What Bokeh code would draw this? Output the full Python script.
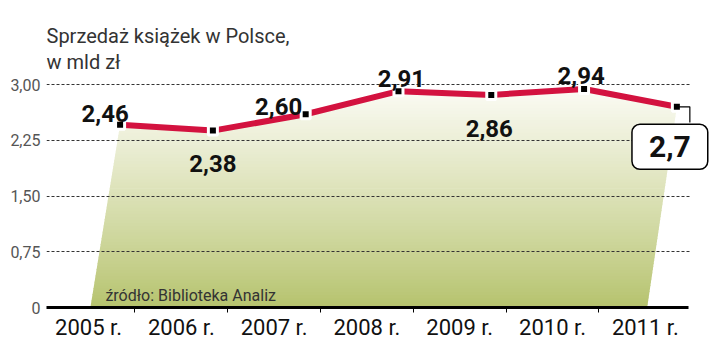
import numpy as np
from bokeh.plotting import figure
from bokeh.models import FixedTicker, Label, Range1d
from bokeh.core.properties import value
from bokeh.embed import file_html
from bokeh.resources import INLINE

# ---------------- data ----------------
years = ["2005 r.", "2006 r.", "2007 r.", "2008 r.", "2009 r.", "2010 r.", "2011 r."]
sales = [2.46, 2.38, 2.60, 2.91, 2.86, 2.94, 2.70]
value_labels = ["2,46", "2,38", "2,60", "2,91", "2,86", "2,94", "2,7"]
y_ticks = [0, 0.75, 1.50, 2.25, 3.00]
y_tick_labels = ["0", "0,75", "1,50", "2,25", "3,00"]
title_lines = ["Sprzedaż książek w Polsce,", "w mld zł"]
source_note = "źródło: Biblioteka Analiz"

# ---------------- style ----------------
W, H = 720, 342
FRAME_BOTTOM_PX = 307
PX_PER_UNIT = 74.33
POINT_SHIFT = 0.34
SLANT = 0.32
X_START, AXIS_END, X_END = -0.453, 6.466, 6.724
RED = "#d3123f"
BOLD_FONT = "Roboto"
label_dx = [-15, 0, -27, 3, -2, -3]
label_dy = [-11, 33, -8, -13, 34, -13]

def py(px):
    return (FRAME_BOTTOM_PX - px) / PX_PER_UNIT

n = len(years)
idx = np.arange(n)
mx = idx + POINT_SHIFT

p = figure(width=W, height=H, output_backend="svg", toolbar_location=None,
           x_range=Range1d(X_START, X_END), y_range=Range1d(0, py(0)),
           min_border_left=46, min_border_right=8, min_border_top=0,
           min_border_bottom=35)
p.title.visible = False
p.outline_line_color = None
p.background_fill_color = "white"
p.border_fill_color = "white"

# ---------------- gradient area ----------------
poly_x = [mx[0] - SLANT] + list(mx) + [mx[-1] - SLANT]
poly_y = [0.0] + list(sales) + [0.0]

def clip_half(pts, yb, keep_above):
    out = []
    m = len(pts)
    for i in range(m):
        cx, cy = pts[i]
        nx, ny = pts[(i + 1) % m]
        cin = cy >= yb if keep_above else cy <= yb
        nin = ny >= yb if keep_above else ny <= yb
        if cin:
            out.append((cx, cy))
        if cin != nin:
            t = (yb - cy) / (ny - cy)
            out.append((cx + t * (nx - cx), yb))
    return out

bottom_rgb = np.array([0xb5, 0xc2, 0x6c])
top_rgb = np.array([0xfb, 0xfb, 0xf4])
top_y = max(sales)
nb = 70
band_xs, band_ys, band_cols = [], [], []
for k in range(nb):
    lo = top_y * k / nb
    hi = top_y * (k + 1) / nb + 0.01
    pts = clip_half(list(zip(poly_x, poly_y)), lo, True)
    pts = clip_half(pts, hi, False)
    if len(pts) < 3:
        continue
    t = ((k + 0.5) / nb) ** 0.9
    c = bottom_rgb + (top_rgb - bottom_rgb) * t
    band_xs.append([q[0] for q in pts])
    band_ys.append([q[1] for q in pts])
    band_cols.append("#%02x%02x%02x" % tuple(int(round(v)) for v in c))
p.patches(band_xs, band_ys, fill_color=band_cols, line_color=None, level="image")

# ---------------- line and markers ----------------
p.line(mx, sales, line_color=RED, line_width=6)
p.scatter(mx, sales, marker="square", size=9, fill_color="black",
          line_color="white", line_width=3)

# value labels
p.text(mx[:-1], sales[:-1], text=value_labels[:-1], x_offset=label_dx, y_offset=label_dy,
       text_align="center", text_baseline="alphabetic",
       text_font=value(BOLD_FONT), text_font_style="bold", text_font_size="24px",
       text_color="#111111")

# connector + box for last value
p.line([mx[-1], mx[-1] + 0.14, mx[-1] + 0.14], [sales[-1], sales[-1], sales[-1] - 0.21],
       line_color="black", line_width=1.2)
p.add_layout(Label(x=mx[-1], y=sales[-1], x_offset=-7, y_offset=-40,
                   text=value_labels[-1], text_align="center", text_baseline="middle",
                   text_font=BOLD_FONT, text_font_style="bold", text_font_size="30px",
                   text_color="#111111", background_fill_color="white",
                   border_line_color="black", border_line_width=1.5,
                   border_radius=8, padding=(17, 12)))

# ---------------- axes ----------------
p.xaxis.ticker = FixedTicker(ticks=list(idx), minor_ticks=list(idx[:-1] + 0.5))
p.xaxis.major_label_overrides = {int(i): years[i] for i in idx}
p.xaxis.bounds = (X_START, AXIS_END)
p.xaxis.axis_line_width = 3
p.xaxis.axis_line_color = "black"
p.xaxis.major_tick_line_color = None
p.xaxis.major_tick_out = 0
p.xaxis.major_tick_in = 0
p.xaxis.minor_tick_line_color = "black"
p.xaxis.minor_tick_out = 5
p.xaxis.minor_tick_in = 0
p.xaxis.major_label_standoff = 2
p.xaxis.major_label_text_font = "Roboto"
p.xaxis.major_label_text_font_size = "22px"
p.xaxis.major_label_text_color = "#111111"

p.yaxis.ticker = FixedTicker(ticks=y_ticks)
p.yaxis.major_label_overrides = {t: l for t, l in zip(y_ticks, y_tick_labels)}
p.yaxis.axis_line_color = None
p.yaxis.major_tick_line_color = None
p.yaxis.minor_tick_line_color = None
p.yaxis.major_tick_out = 0
p.yaxis.major_label_standoff = 6
p.yaxis.major_label_text_font = "Roboto"
p.yaxis.major_label_text_font_size = "16px"
p.yaxis.major_label_text_color = "#555555"

p.xgrid.grid_line_color = None
p.ygrid.ticker = FixedTicker(ticks=y_ticks[1:])
p.ygrid.cross_bounds = (X_START, AXIS_END + 0.02)
p.ygrid.grid_line_color = "#333333"
p.ygrid.grid_line_dash = "3 2"
p.ygrid.grid_line_width = 1

# ---------------- title and source ----------------
for line_text, base_px in zip(title_lines, [35, 61]):
    p.add_layout(Label(x=X_START, y=py(base_px), x_offset=0, text=line_text,
                       text_font="Roboto", text_font_size="20px", text_color="#333333",
                       text_baseline="alphabetic"))
p.add_layout(Label(x=mx[0] - SLANT, y=py(295), x_offset=15, text=source_note,
                   text_font="Roboto", text_font_size="16px", text_color="#333333",
                   text_baseline="alphabetic"))

open("out.html", "w").write(file_html(p, INLINE))
